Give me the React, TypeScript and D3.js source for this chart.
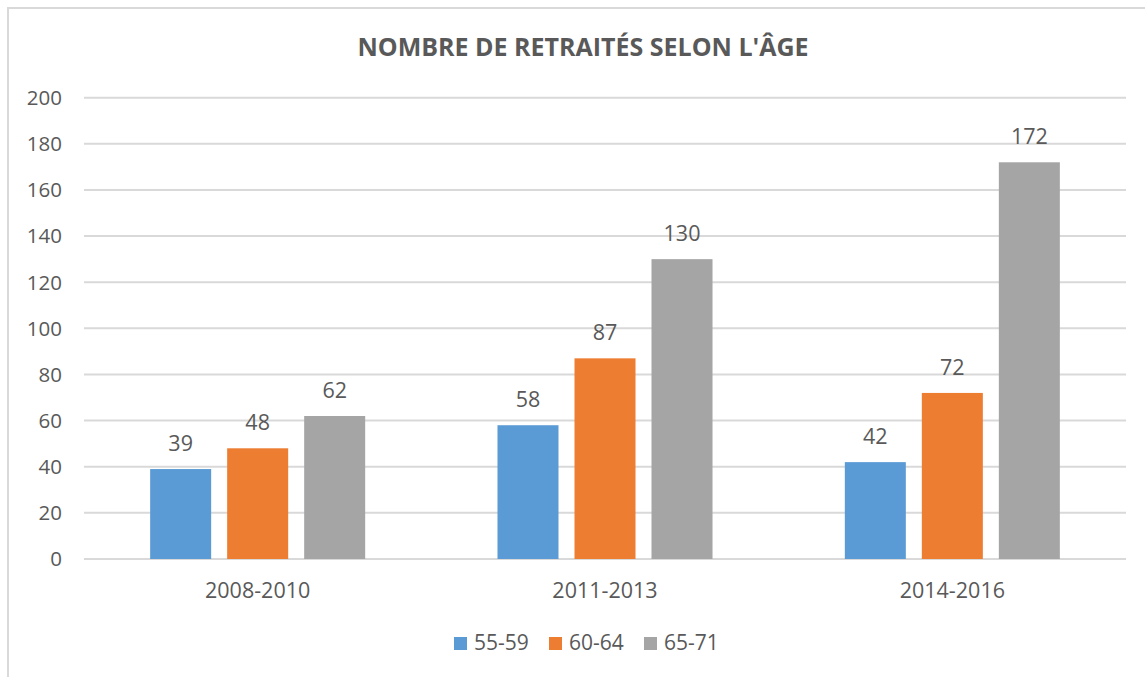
import React from "react";
import * as d3 from "d3";

const categories = ["2008-2010", "2011-2013", "2014-2016"];
const seriesNames = ["55-59", "60-64", "65-71"];
const values55_59 = [39, 58, 42];
const values60_64 = [48, 87, 72];
const values65_71 = [62, 130, 172];
const yTicks = [0, 20, 40, 60, 80, 100, 120, 140, 160, 180, 200];
const colors = ["#5B9BD5", "#ED7D31", "#A5A5A5"];
const title = "NOMBRE DE RETRAITÉS SELON L'ÂGE";

const W = 1145;
const H = 677;
const FONT = "'Open Sans', sans-serif";
const TXT = "#595959";

export default function App() {
  const series = [values55_59, values60_64, values65_71];
  const x0 = d3.scaleBand<string>().domain(categories).range([84, 1126]).padding(0);
  const x1 = d3
    .scaleBand<string>()
    .domain(seriesNames)
    .range([0, x0.bandwidth()])
    .paddingInner(16 / 77)
    .paddingOuter(0.859);
  const y = d3.scaleLinear().domain([0, 200]).range([559, 97.7]);

  const legendItems = [
    { x: 454, tx: 474 },
    { x: 549, tx: 569 },
    { x: 644, tx: 664 },
  ];

  return (
    <svg
      width={W}
      height={H}
      style={{ position: "absolute", left: 0, top: 0, background: "#fff" }}
      fontFamily={FONT}
    >
      <rect x={0} y={0} width={W} height={H} fill="#fff" />
      <rect x={8} y={8} width={W + 20} height={H + 20} fill="#fff" stroke="#D9D9D9" strokeWidth={2} />
      <text x={583} y={56} textAnchor="middle" fontSize={25} fontWeight="bold" fill={TXT}>
        {title}
      </text>
      {yTicks.map((t) => (
        <g key={t}>
          <line x1={84} x2={1126} y1={y(t)} y2={y(t)} stroke="#D9D9D9" strokeWidth={2} />
          <text x={62} y={y(t)} dy="0.36em" textAnchor="end" fontSize={20.5} fill={TXT}>
            {t}
          </text>
        </g>
      ))}
      {categories.map((c, ci) => (
        <g key={c} transform={`translate(${x0(c)},0)`}>
          {seriesNames.map((s, si) => {
            const v = series[si][ci];
            const bx = x1(s)!;
            return (
              <g key={s}>
                <rect x={bx} y={y(v)} width={x1.bandwidth()} height={y(0) - y(v)} fill={colors[si]} />
                <text
                  x={bx + x1.bandwidth() / 2}
                  y={y(v) - 18}
                  textAnchor="middle"
                  fontSize={21.5}
                  fill={TXT}
                >
                  {v}
                </text>
              </g>
            );
          })}
          <text x={x0.bandwidth() / 2} y={598} textAnchor="middle" fontSize={21.5} fill={TXT}>
            {c}
          </text>
        </g>
      ))}
      {seriesNames.map((s, i) => (
        <g key={s}>
          <rect x={legendItems[i].x} y={637} width={13} height={13} fill={colors[i]} />
          <text x={legendItems[i].tx} y={650} fontSize={21} fill={TXT}>
            {s}
          </text>
        </g>
      ))}
    </svg>
  );
}
